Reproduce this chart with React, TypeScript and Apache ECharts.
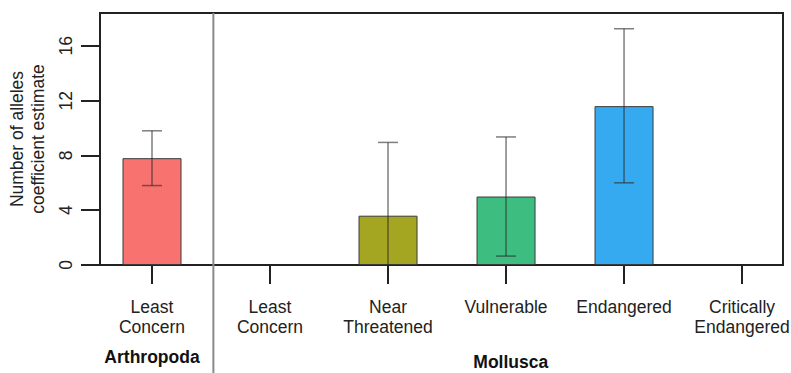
import React, { useEffect, useRef } from "react";
import * as echarts from "echarts";

// ---- data ----
const categories = [
  "Least\nConcern",
  "Least\nConcern",
  "Near\nThreatened",
  "Vulnerable",
  "Endangered",
  "Critically\nEndangered",
];
const positions = [0, 1, 2, 3, 4, 5];
const estimates: (number | null)[] = [7.8, null, 3.6, 5.0, 11.6, null];
const lowerCI: (number | null)[] = [5.8, null, -1.75, 0.65, 6.0, null];
const upperCI: (number | null)[] = [9.8, null, 8.95, 9.35, 17.25, null];
const barColors: (string | null)[] = ["#F8736F", null, "#A4A521", "#3DBE80", "#35AAF0", null];
const yTicks = [0, 4, 8, 12, 16];
const groupNames = ["Arthropoda", "Mollusca"];
const groupCenters = [0, 3.04];
const separatorAt = 0.52;

const FONT = '"Liberation Sans", Arial, Helvetica, sans-serif';
const INK = "#222222";
const FS = 17.5;

export default function App() {
  const ref = useRef<HTMLDivElement>(null);
  useEffect(() => {
    document.body.style.margin = "0";
    const chart = echarts.init(ref.current!, null, { renderer: "svg" });

    const barData = positions
      .filter((i) => estimates[i] != null)
      .map((i) => ({ value: [i, estimates[i]], itemStyle: { color: barColors[i] } }));
    const errData = positions
      .filter((i) => lowerCI[i] != null && upperCI[i] != null)
      .map((i) => [i, lowerCI[i], upperCI[i]]);

    const option: any = {
      animation: false,
      textStyle: { fontFamily: FONT },
      grid: {
        left: 100,
        top: 13,
        right: 8,
        bottom: 108,
        show: true,
        borderColor: INK,
        borderWidth: 2,
        backgroundColor: "transparent",
        outerBoundsMode: "none",
      },
      xAxis: {
        type: "value",
        min: -0.4407,
        max: 5.347,
        axisLine: { show: true, onZero: false, lineStyle: { color: INK, width: 2 } },
        axisTick: {
          show: true,
          customValues: positions,
          length: 19,
          lineStyle: { color: INK, width: 2 },
        },
        axisLabel: {
          customValues: positions,
          formatter: (v: number) => categories[Math.round(v)] ?? "",
          fontSize: FS,
          lineHeight: 20,
          margin: 32,
          color: INK,
          fontFamily: FONT,
          align: "center",
        },
        splitLine: { show: false },
      },
      yAxis: {
        type: "value",
        min: 0,
        max: 18.4,
        axisLine: { show: false, onZero: false },
        axisTick: {
          show: true,
          customValues: yTicks,
          length: 19,
          lineStyle: { color: INK, width: 2 },
        },
        axisLabel: {
          customValues: yTicks,
          rotate: 90,
          fontSize: FS,
          margin: 25,
          color: INK,
          fontFamily: FONT,
        },
        splitLine: { show: false },
        name: "Number of alleles\ncoefficient estimate",
        nameLocation: "middle",
        nameRotate: 90,
        nameGap: 52,
        nameMoveOverlap: false,
        nameTextStyle: { fontSize: FS, lineHeight: 21, color: INK, fontFamily: FONT },
      },
      series: [
        {
          type: "bar",
          data: barData,
          barWidth: 59,
          itemStyle: { borderColor: "#3a3a3a", borderWidth: 1 },
          z: 2,
        },
        {
          type: "custom",
          data: errData,
          z: 3,
          renderItem: (params: any, api: any) => {
            const x = api.value(0);
            const lo = api.value(1);
            const hi = api.value(2);
            const top = api.coord([x, hi]);
            const bot = api.coord([x, Math.max(lo, 0)]);
            const cap = 10;
            const style = { stroke: "rgba(40,40,40,0.6)", lineWidth: 1.5 };
            const children: any[] = [
              { type: "line", shape: { x1: top[0], y1: top[1], x2: bot[0], y2: bot[1] }, style },
              { type: "line", shape: { x1: top[0] - cap, y1: top[1], x2: top[0] + cap, y2: top[1] }, style },
            ];
            if (lo >= 0) {
              children.push({
                type: "line",
                shape: { x1: bot[0] - cap, y1: bot[1], x2: bot[0] + cap, y2: bot[1] },
                style,
              });
            }
            return { type: "group", children };
          },
        },
      ],
    };
    chart.setOption(option);

    const sepX = chart.convertToPixel({ xAxisIndex: 0 }, separatorAt) as number;
    const gx = groupCenters.map((v) => chart.convertToPixel({ xAxisIndex: 0 }, v) as number);
    const groupY = [357, 362];
    chart.setOption({
      graphic: [
        {
          type: "line",
          shape: { x1: sepX, y1: 13, x2: sepX, y2: 373 },
          style: { stroke: "#8a8a8a", lineWidth: 2 },
          z: 1,
        },
        ...groupNames.map((name, k) => ({
          type: "text",
          x: gx[k],
          y: groupY[k],
          style: {
            text: name,
            fill: "#111",
            fontSize: FS,
            fontWeight: "bold",
            fontFamily: FONT,
            align: "center",
            verticalAlign: "middle",
          },
        })),
      ],
    });

    return () => chart.dispose();
  }, []);
  return <div ref={ref} style={{ width: 791, height: 373 }} />;
}
